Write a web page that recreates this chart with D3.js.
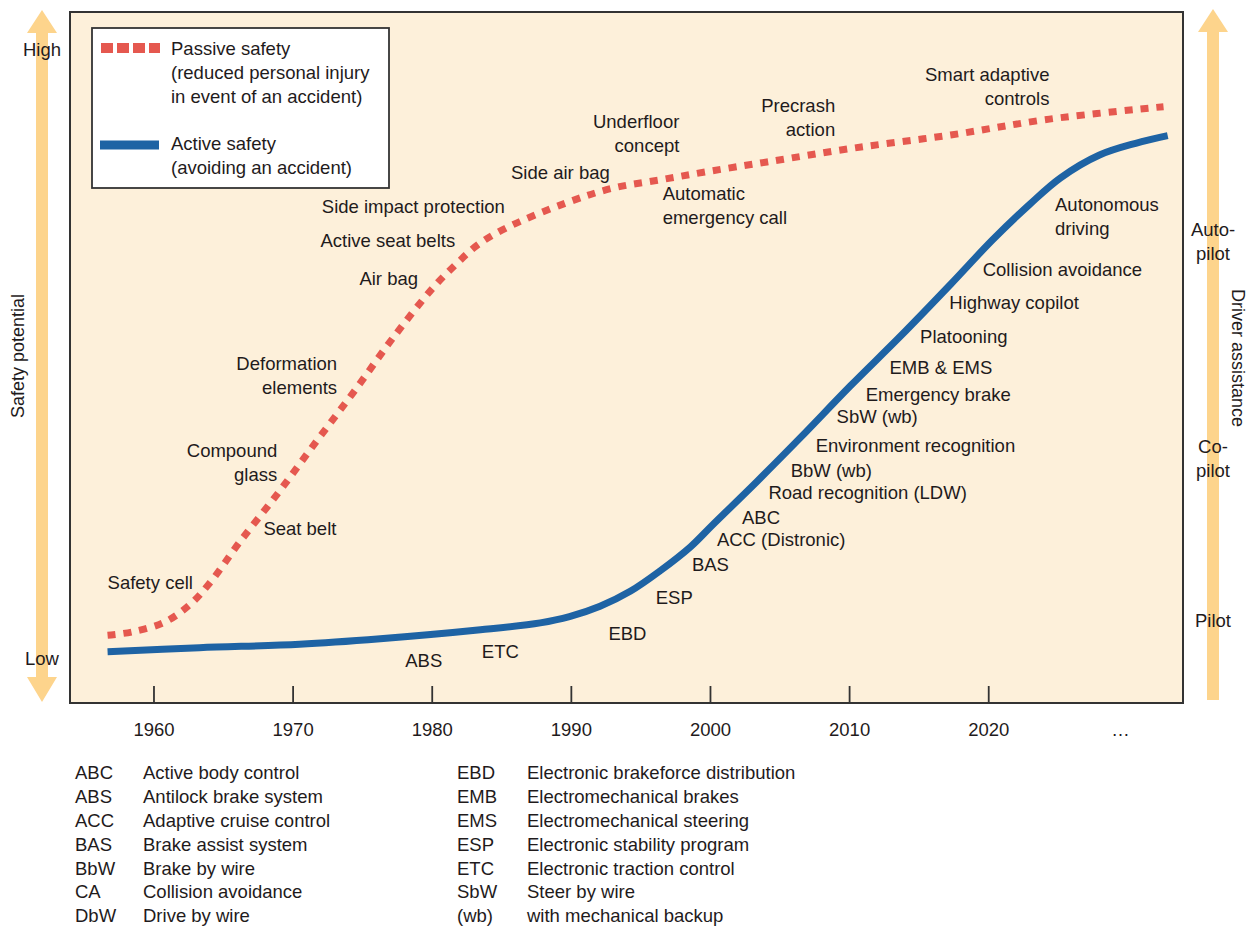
<!DOCTYPE html>
<html>
<head>
<meta charset="utf-8">
<script src="https://cdn.jsdelivr.net/npm/d3@7"></script>
<style>
  body { margin: 0; background: #fff; }
  text { font-family: "Liberation Sans", Arial, sans-serif; fill: #1f1b1c; }
</style>
</head>
<body>
<svg width="1257" height="927"></svg>
<script>
// passive safety curve (red, dashed)
var passiveYears = [1956.7, 1958.5, 1960.8, 1962.6, 1964.1, 1966.2, 1969.0, 1971.8, 1974.5, 1977.2, 1980.1, 1981.7,
                    1983.3, 1985.3, 1989.7, 1993.0, 1996.4, 1999.8, 2004.1, 2010.3, 2017.3, 2024.4, 2032.6];
var passiveValues = [9.8, 10.3, 11.7, 14.2, 17.5, 23.3, 30.5, 38.1, 45.3, 52.8, 60.1, 63.4,
                     66.3, 68.7, 72.4, 74.5, 75.7, 76.9, 78.3, 80.3, 82.2, 84.5, 86.3];

// active safety curve (blue)
var activeYears = [1956.7, 1963.3, 1970.5, 1976.3, 1983.5, 1987.8, 1989.9, 1992.1, 1994.3, 1996.4, 1998.6, 2000.2,
                   2003.4, 2006.5, 2010.1, 2013.7, 2017.3, 2020.3, 2023.0, 2025.2, 2028.0, 2030.6, 2032.9];
var activeValues = [7.4, 8.0, 8.5, 9.3, 10.6, 11.6, 12.5, 14.0, 16.2, 19.1, 22.6, 25.8,
                    32.1, 38.4, 45.9, 53.1, 60.6, 67.0, 72.2, 76.0, 79.3, 81.0, 82.1];

var tickYears = [1960, 1970, 1980, 1990, 2000, 2010, 2020];
var moreLabel = "…", moreYear = 2029.5;

// milestones: [lines, year, value, anchor]
var passiveLabels = [
    [["Safety cell"], 1956.7, 17.4, "start"],
    [["Seat belt"], 1967.9, 25.2, "start"],
    [["Compound", "glass"], 1968.9, 36.5, "end"],
    [["Deformation", "elements"], 1973.2, 49.2, "end"],
    [["Air bag"], 1974.8, 61.4, "start"],
    [["Active seat belts"], 1972.0, 67.0, "start"],
    [["Side impact protection"], 1972.1, 71.9, "start"],
    [["Side air bag"], 1985.7, 76.7, "start"],
    [["Underfloor", "concept"], 1997.8, 84.1, "end"],
    [["Automatic", "emergency call"], 1996.6, 73.7, "start"],
    [["Precrash", "action"], 2009.0, 86.4, "end"],
    [["Smart adaptive", "controls"], 2024.4, 90.9, "end"]
];
var activeLabels = [
    [["ABS"], 1978.1, 6.2], [["ETC"], 1983.6, 7.5], [["EBD"], 1992.7, 10.1],
    [["ESP"], 1996.1, 15.3], [["BAS"], 1998.7, 20.0], [["ACC (Distronic)"], 2000.5, 23.7],
    [["ABC"], 2002.3, 26.9], [["Road recognition (LDW)"], 2004.2, 30.4], [["BbW (wb)"], 2005.8, 33.7],
    [["Environment recognition"], 2007.6, 37.3], [["SbW (wb)"], 2009.1, 41.4], [["Emergency brake"], 2011.2, 44.7],
    [["EMB & EMS"], 2012.9, 48.6], [["Platooning"], 2015.1, 53.1], [["Highway copilot"], 2017.2, 57.9],
    [["Collision avoidance"], 2019.6, 62.7], [["Autonomous", "driving"], 2024.8, 72.1]
];

var leftLabels = [["High", 94.5], ["Low", 6.5]];
var rightLabels = [[["Auto-", "pilot"], 68.5], [["Co-", "pilot"], 37.1], [["Pilot"], 12.0]];

var abbrLeft = [["ABC", "Active body control"], ["ABS", "Antilock brake system"], ["ACC", "Adaptive cruise control"],
                ["BAS", "Brake assist system"], ["BbW", "Brake by wire"], ["CA", "Collision avoidance"], ["DbW", "Drive by wire"]];
var abbrRight = [["EBD", "Electronic brakeforce distribution"], ["EMB", "Electromechanical brakes"],
                 ["EMS", "Electromechanical steering"], ["ESP", "Electronic stability program"],
                 ["ETC", "Electronic traction control"], ["SbW", "Steer by wire"], ["(wb)", "with mechanical backup"]];

var red = "#e5584f", blue = "#1e63a4", arrowCol = "#fdd48c", bg = "#fdf0da", ink = "#1f1b1c";

var svg = d3.select("svg");
var box = {left: 70, right: 1183, top: 12, bottom: 703};

var x = d3.scaleLinear().domain([1954, 2034]).range([box.left, box.right]);
var y = d3.scaleLinear().domain([0, 100]).range([box.bottom, box.top]);

// side arrows
var la = 42, ra = 1213;
svg.append("path")
    .attr("d", "M" + la + ",10 L" + (la + 15) + ",33 L" + (la + 6) + ",33 L" + (la + 6) + ",677 L" + (la + 15) + ",677 L" + la + ",702 L" +
        (la - 15) + ",677 L" + (la - 6) + ",677 L" + (la - 6) + ",33 L" + (la - 15) + ",33 Z")
    .attr("fill", arrowCol);
svg.append("path")
    .attr("d", "M" + ra + ",9 L" + (ra + 15) + ",32 L" + (ra + 6) + ",32 L" + (ra + 6) + ",700 L" + (ra - 6) + ",700 L" +
        (ra - 6) + ",32 L" + (ra - 15) + ",32 Z")
    .attr("fill", arrowCol);

// plot box
svg.append("rect")
    .attr("x", box.left).attr("y", box.top)
    .attr("width", box.right - box.left).attr("height", box.bottom - box.top)
    .attr("fill", bg).attr("stroke", "#333").attr("stroke-width", 2);

// x axis
var axis = svg.append("g")
    .attr("transform", "translate(0," + box.bottom + ")")
    .call(d3.axisBottom(x).tickValues(tickYears).tickFormat(d3.format("d"))
        .tickSizeInner(-17).tickSizeOuter(0).tickPadding(20));
axis.select(".domain").remove();
axis.selectAll("line").attr("stroke", "#333").attr("stroke-width", 1.8);
axis.selectAll("text").attr("font-size", 18.5).attr("font-family", null).attr("fill", ink);
svg.append("text")
    .attr("x", x(moreYear)).attr("y", 730).attr("dy", "0.35em")
    .attr("text-anchor", "middle").attr("font-size", 18.5)
    .text(moreLabel);

// curves
var line = d3.line()
    .x(function(d) { return x(d[0]); })
    .y(function(d) { return y(d[1]); })
    .curve(d3.curveCatmullRom.alpha(0.5));

var passive = passiveYears.map(function(yr, i) { return [yr, passiveValues[i]]; });
var active = activeYears.map(function(yr, i) { return [yr, activeValues[i]]; });

svg.append("path")
    .attr("d", line(active))
    .attr("fill", "none").attr("stroke", blue).attr("stroke-width", 7);

svg.append("path")
    .attr("d", line(passive))
    .attr("fill", "none").attr("stroke", red).attr("stroke-width", 7)
    .attr("stroke-dasharray", "8,8");

function drawLabel(g, lines, px, py, anchor) {
    var t = g.append("text")
        .attr("x", px).attr("y", py)
        .attr("text-anchor", anchor)
        .attr("font-size", 18.5);
    lines.forEach(function(s, i) {
        t.append("tspan")
            .attr("x", px)
            .attr("y", py + i * 24)
            .attr("dy", "0.35em")
            .text(s);
    });
}

var lab = svg.append("g");
passiveLabels.forEach(function(d) { drawLabel(lab, d[0], x(d[1]), y(d[2]), d[3]); });
activeLabels.forEach(function(d) { drawLabel(lab, d[0], x(d[1]), y(d[2]), "start"); });

leftLabels.forEach(function(d) { drawLabel(lab, [d[0]], la, y(d[1]), "middle"); });
rightLabels.forEach(function(d) { drawLabel(lab, d[0], ra, y(d[1]), "middle"); });

svg.append("text")
    .attr("transform", "translate(18," + 356 + ") rotate(-90)")
    .attr("text-anchor", "middle").attr("dy", "0.35em")
    .attr("font-size", 18)
    .text("Safety potential");
svg.append("text")
    .attr("transform", "translate(1238," + 358 + ") rotate(90)")
    .attr("text-anchor", "middle").attr("dy", "0.35em")
    .attr("font-size", 18)
    .text("Driver assistance");

// legend
var lg = svg.append("g");
lg.append("rect")
    .attr("x", 92).attr("y", 28).attr("width", 297).attr("height", 160)
    .attr("fill", "#fff").attr("stroke", "#333").attr("stroke-width", 1.8);
lg.append("line")
    .attr("x1", 101).attr("x2", 160).attr("y1", 48).attr("y2", 48)
    .attr("stroke", red).attr("stroke-width", 10).attr("stroke-dasharray", "12,4");
lg.append("line")
    .attr("x1", 100).attr("x2", 159).attr("y1", 145).attr("y2", 145)
    .attr("stroke", blue).attr("stroke-width", 9);
drawLabel(lg, ["Passive safety", "(reduced personal injury", "in event of an accident)"], 171, 49, "start");
drawLabel(lg, ["Active safety", "(avoiding an accident)"], 171, 144, "start");

// abbreviations
function drawAbbr(list, x0, x1) {
    var g = svg.append("g");
    list.forEach(function(d, i) {
        var yy = 773 + i * 23.8;
        g.append("text").attr("x", x0).attr("y", yy).attr("dy", "0.35em").attr("font-size", 18.5).text(d[0]);
        g.append("text").attr("x", x1).attr("y", yy).attr("dy", "0.35em").attr("font-size", 18.5).text(d[1]);
    });
}
drawAbbr(abbrLeft, 75, 143);
drawAbbr(abbrRight, 457, 527);
</script>
</body>
</html>
